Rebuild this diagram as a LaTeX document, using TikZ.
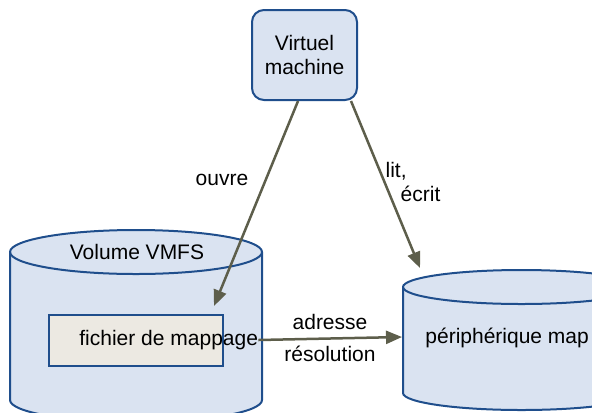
\documentclass[tikz,border=0pt]{standalone}
\usepackage{fontspec}
\setmainfont{Liberation Sans}
\usetikzlibrary{positioning, arrows.meta, calc}

\definecolor{vmblue}{HTML}{1F4E8C}
\definecolor{vmfill}{HTML}{DAE3F1}
\definecolor{mapfill}{HTML}{ECE9E2}
\definecolor{arrowgray}{HTML}{5D5E4B}

\begin{document}
\begin{tikzpicture}[x=0.5pt, y=-0.5pt,
  every node/.style={font=\fontsize{10.5}{12}\selectfont},
  vmbox/.style={draw=vmblue, fill=vmfill, line width=1pt, rounded corners=6pt, minimum width=52.5pt, minimum height=45pt, align=center},
  disk/.style={draw=vmblue, fill=vmfill, line width=1pt},
  mapbox/.style={draw=vmblue, fill=mapfill, line width=1pt, minimum width=87pt, minimum height=25.5pt},
  link/.style={draw=arrowgray, line width=1.25pt, -{Triangle[length=8pt, width=6.5pt]}}]
  \useasboundingbox (0,0) rectangle (592,412);
  \clip (0,0) rectangle (592,412);

  % Virtual machine
  \node[vmbox] (vm) at (304.5,55) {Virtuel\\machine};

  % VMFS volume
  \draw[disk] (10,252) -- (10,400) arc[start angle=180, end angle=0, x radius=126, y radius=22]
    -- (262,252) arc[start angle=0, end angle=-180, x radius=126, y radius=22] -- cycle;
  \draw[disk, fill=none] (10,252) arc[start angle=180, end angle=0, x radius=126, y radius=22];
  \node (vmfstxt) at (137,252) {Volume VMFS};
  \node[mapbox] (map) at (136,340.5) {};
  \node[anchor=west, inner sep=0pt] (maptxt) at (79,340) {fichier de mappage};

  % Mapped device
  \draw[disk] (403,287) -- (403,393) arc[start angle=180, end angle=0, x radius=118.5, y radius=17]
    -- (640,287) arc[start angle=0, end angle=-180, x radius=118.5, y radius=17] -- cycle;
  \draw[disk, fill=none] (403,287) arc[start angle=180, end angle=0, x radius=118.5, y radius=17];
  \node[anchor=west, inner sep=0pt] (luntxt) at (425,338) {périphérique map};
  \coordinate (lunin) at (420,268);
  \coordinate (lunwest) at (402,337);

  % Access paths
  \draw[link] (vm.262) -- ($(map.north east)+(-10,-8)$);
  \draw[link] ($(vm.south east)+(-7,0)$) -- (lunin);
  \draw[link] (maptxt.east) -- (lunwest);

  % Labels
  \node (ouvre) at (222,180) {ouvre};
  \node[align=left] (litecrit) at (413,182) {lit,\\\hspace*{7.5pt}écrit};
  \node[align=center] (adr) at (330,338) {adresse\\[4pt]résolution};
\end{tikzpicture}
\end{document}
